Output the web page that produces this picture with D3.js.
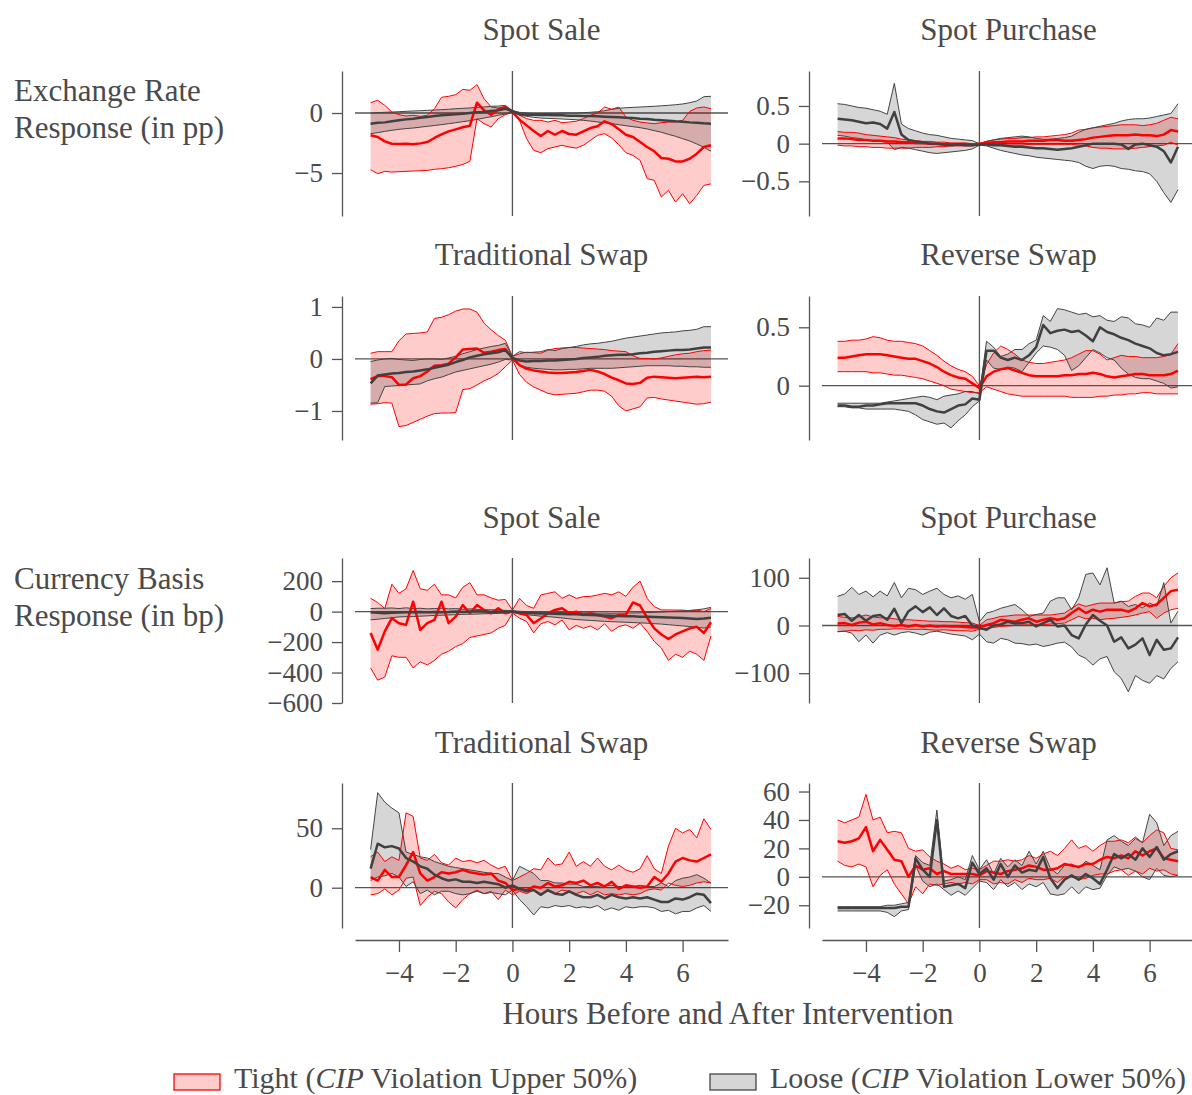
<!DOCTYPE html>
<html><head><meta charset="utf-8">
<script src="https://cdn.jsdelivr.net/npm/d3@7"></script>
<style>
body{margin:0;background:#fff}
svg{display:block}
text{font-family:"Liberation Serif","Times New Roman",serif;fill:#4a4a4a}
</style>
</head><body>
<svg id="c" width="1192" height="1095"></svg>
<script>
// ---------- categories ----------
const hours = [-5,-4.75,-4.5,-4.25,-4,-3.75,-3.5,-3.25,-3,-2.75,-2.5,-2.25,-2,-1.75,-1.5,-1.25,-1,-0.75,-0.5,-0.25,0,
  0.25,0.5,0.75,1,1.25,1.5,1.75,2,2.25,2.5,2.75,3,3.25,3.5,3.75,4,4.25,4.5,4.75,5,5.25,5.5,5.75,6,6.25,6.5,6.75,7];
const xTickValues = [-4,-2,0,2,4,6];
const columnTitles = ["Spot Sale","Spot Purchase","Traditional Swap","Reverse Swap"];
const rowLabels = [["Exchange Rate","Response (in pp)"],["Currency Basis","Response (in bp)"]];
const xLabel = "Hours Before and After Intervention";

// ---------- Exchange rate: Spot Sale ----------
const erSaleTight   = [-1.86,-2.00,-2.36,-2.56,-2.58,-2.56,-2.61,-2.53,-2.42,-2.08,-1.78,-1.53,-1.36,-1.19,-1.06,0.86,0.22,-0.14,0.31,0.47,0.1,
  -0.56,-1.03,-1.5,-1.92,-1.5,-1.81,-1.5,-1.75,-1.81,-1.53,-1.25,-1.11,-0.69,-0.92,-1.36,-1.81,-2.0,-2.42,-2.83,-3.19,-3.75,-3.81,-4.03,-4.03,-3.81,-3.39,-2.83,-2.69];
const erSaleTightLo = [-4.72,-5.06,-4.86,-4.92,-4.89,-4.86,-4.83,-4.81,-4.78,-4.69,-4.64,-4.56,-4.44,-4.28,-4.03,-0.47,-0.89,-1.17,-0.47,-0.14,0.05,
  -0.61,-2.14,-3.11,-3.31,-2.97,-2.83,-2.69,-2.83,-2.92,-2.69,-2.28,-1.86,-1.72,-2.08,-2.64,-3.31,-3.53,-3.94,-5.47,-5.61,-7.0,-6.44,-7.42,-6.72,-7.56,-6.86,-6.03,-5.9];
const erSaleTightHi = [0.86,1.06,0.64,0.08,-0.14,-0.25,-0.19,-0.28,-0.19,0.36,1.31,1.39,1.53,1.97,1.89,2.36,1.19,0.5,0.42,0.56,0.14,
  -0.19,-0.47,-0.61,-0.61,-0.75,-0.61,-0.81,-0.75,-0.69,-0.47,-0.19,0,0.5,0.31,0.5,-0.33,-0.61,-0.75,-0.83,-0.89,-0.81,-0.75,-0.75,-0.61,0.14,0.42,0.5,0.36];
const erSaleLoose   = [-0.89,-0.81,-0.78,-0.69,-0.61,-0.53,-0.47,-0.39,-0.33,-0.25,-0.19,-0.14,-0.11,-0.06,0,0.06,0.08,0.17,0.22,0.36,0.15,
  -0.1,-0.14,-0.14,-0.17,-0.17,-0.19,-0.19,-0.22,-0.22,-0.25,-0.25,-0.28,-0.31,-0.33,-0.36,-0.39,-0.42,-0.47,-0.5,-0.56,-0.6,-0.64,-0.69,-0.72,-0.78,-0.81,-0.86,-0.89];
const erSaleLooseLo = [-1.72,-1.64,-1.53,-1.44,-1.36,-1.3,-1.25,-1.18,-1.11,-1.04,-0.97,-0.89,-0.81,-0.72,-0.64,-0.53,-0.42,-0.31,-0.19,-0.08,0.1,
  -0.17,-0.28,-0.36,-0.42,-0.45,-0.47,-0.5,-0.53,-0.56,-0.61,-0.67,-0.75,-0.81,-0.89,-0.97,-1.06,-1.14,-1.22,-1.33,-1.47,-1.6,-1.78,-1.94,-2.14,-2.33,-2.58,-2.86,-3.19];
const erSaleLooseHi = [0,0.03,0.06,0.08,0.11,0.14,0.17,0.19,0.22,0.25,0.28,0.31,0.36,0.39,0.42,0.47,0.5,0.56,0.58,0.64,0.2,
  0.06,0,-0.03,-0.03,-0.03,-0.03,0,0,0,0.03,0.06,0.11,0.19,0.31,0.39,0.44,0.47,0.5,0.53,0.56,0.6,0.64,0.69,0.75,0.86,1.0,1.36,1.39];

// ---------- Exchange rate: Spot Purchase ----------
const erBuyTight   = [0.07,0.07,0.06,0.05,0.05,0.04,0.04,0.03,0.03,0.02,0.02,0.01,0.01,0,0,-0.01,-0.01,-0.01,-0.01,-0.01,0,
  0.01,0.02,0.02,0.03,0.03,0.03,0.04,0.04,0.04,0.05,0.05,0.04,0.04,0.05,0.06,0.08,0.09,0.1,0.11,0.11,0.11,0.12,0.11,0.11,0.1,0.12,0.18,0.16];
const erBuyTightLo = [-0.02,-0.03,-0.03,-0.04,-0.04,-0.05,-0.05,-0.06,-0.06,-0.06,-0.06,-0.05,-0.05,-0.05,-0.04,-0.04,-0.03,-0.03,-0.03,-0.03,-0.01,
  -0.01,-0.01,-0.01,-0.02,-0.02,-0.02,-0.01,-0.01,-0.01,-0.01,-0.01,-0.01,-0.01,-0.02,-0.03,-0.05,-0.06,-0.06,-0.07,-0.07,-0.07,-0.06,-0.05,-0.04,-0.03,-0.02,0.02,-0.02];
const erBuyTightHi = [0.16,0.15,0.15,0.14,0.12,0.11,0.1,0.09,0.08,0.06,0.05,0.04,0.03,0.03,0.02,0.02,0.01,0.01,0.01,0,0,
  0.03,0.05,0.06,0.07,0.07,0.08,0.08,0.09,0.09,0.1,0.11,0.12,0.14,0.18,0.19,0.21,0.22,0.23,0.24,0.25,0.25,0.25,0.24,0.25,0.27,0.31,0.35,0.33];
const erBuyLoose   = [0.33,0.32,0.31,0.29,0.27,0.28,0.26,0.2,0.42,0.12,0.05,0.03,0.02,0,0,-0.01,-0.02,-0.01,-0.02,-0.02,-0.01,
  -0.01,-0.02,-0.02,-0.03,-0.04,-0.04,-0.05,-0.06,-0.06,-0.07,-0.08,-0.07,-0.06,-0.04,-0.02,0,0,0,0,-0.01,-0.07,-0.01,0,-0.02,-0.04,-0.1,-0.25,-0.04];
const erBuyLooseLo = [0.11,0.1,0.08,0.07,0.05,0.04,0.03,0.02,-0.08,-0.05,-0.06,-0.08,-0.1,-0.12,-0.13,-0.12,-0.11,-0.1,-0.09,-0.07,-0.02,
  -0.03,-0.06,-0.09,-0.11,-0.13,-0.15,-0.16,-0.18,-0.19,-0.2,-0.21,-0.22,-0.23,-0.25,-0.3,-0.33,-0.3,-0.29,-0.3,-0.33,-0.34,-0.36,-0.37,-0.4,-0.5,-0.65,-0.78,-0.61];
const erBuyLooseHi = [0.53,0.52,0.5,0.48,0.47,0.45,0.43,0.39,0.8,0.26,0.2,0.17,0.14,0.12,0.11,0.09,0.07,0.06,0.05,0.04,0,
  0.03,0.05,0.07,0.08,0.09,0.1,0.09,0.07,0.06,0.06,0.07,0.08,0.1,0.15,0.19,0.21,0.23,0.25,0.27,0.3,0.32,0.33,0.33,0.34,0.36,0.38,0.4,0.53];

// ---------- Exchange rate: Traditional Swap ----------
const erTradTight   = [-0.39,-0.33,-0.33,-0.35,-0.5,-0.49,-0.37,-0.33,-0.24,-0.13,-0.12,-0.09,0.03,0.18,0.19,0.2,0.12,0.14,0.17,0.19,0.02,
  -0.12,-0.19,-0.22,-0.24,-0.26,-0.27,-0.27,-0.26,-0.25,-0.23,-0.21,-0.24,-0.29,-0.36,-0.41,-0.47,-0.48,-0.46,-0.36,-0.34,-0.35,-0.36,-0.37,-0.36,-0.35,-0.34,-0.35,-0.34];
const erTradTightLo = [-0.87,-0.86,-0.84,-0.85,-1.3,-1.28,-1.22,-1.16,-1.1,-1.05,-1.04,-1.04,-1.03,-0.59,-0.57,-0.5,-0.42,-0.36,-0.28,-0.15,-0.02,
  -0.3,-0.45,-0.54,-0.6,-0.66,-0.69,-0.68,-0.67,-0.66,-0.63,-0.6,-0.6,-0.62,-0.72,-0.9,-1.0,-0.96,-0.92,-0.75,-0.74,-0.77,-0.79,-0.81,-0.83,-0.85,-0.87,-0.86,-0.83];
const erTradTightHi = [0.11,0.14,0.14,0.14,0.35,0.48,0.49,0.5,0.52,0.78,0.8,0.85,0.92,0.96,0.96,0.9,0.69,0.56,0.45,0.36,0.05,
  0.1,0.13,0.12,0.11,0.17,0.2,0.21,0.22,0.22,0.21,0.2,0.19,0.18,0.16,0.15,0.14,0.06,0.01,0.01,0,0.02,0.05,0.08,0.1,0.11,0.14,0.16,0.17];
const erTradLoose   = [-0.47,-0.32,-0.3,-0.28,-0.27,-0.25,-0.24,-0.22,-0.2,-0.17,-0.14,-0.11,-0.06,-0.02,0.03,0.06,0.09,0.11,0.13,0.17,0.02,
  -0.03,-0.05,-0.04,-0.04,-0.03,-0.03,-0.02,-0.01,0,0.02,0.03,0.04,0.06,0.07,0.08,0.08,0.09,0.11,0.12,0.14,0.15,0.16,0.17,0.17,0.18,0.2,0.22,0.22];
const erTradLooseLo = [-0.85,-0.84,-0.53,-0.52,-0.51,-0.5,-0.49,-0.48,-0.42,-0.38,-0.35,-0.3,-0.25,-0.22,-0.19,-0.16,-0.13,-0.1,-0.06,-0.01,-0.02,
  -0.12,-0.16,-0.18,-0.19,-0.2,-0.21,-0.21,-0.2,-0.2,-0.19,-0.18,-0.18,-0.18,-0.18,-0.17,-0.16,-0.15,-0.14,-0.13,-0.13,-0.13,-0.13,-0.14,-0.14,-0.15,-0.15,-0.16,-0.16];
const erTradLooseHi = [-0.05,-0.02,0,0.01,-0.01,-0.02,-0.03,-0.01,0,0,-0.01,0.02,0.05,0.1,0.14,0.18,0.21,0.24,0.26,0.3,0.05,
  0.14,0.12,0.13,0.14,0.18,0.16,0.2,0.22,0.24,0.27,0.29,0.3,0.32,0.34,0.37,0.4,0.42,0.44,0.46,0.48,0.5,0.51,0.52,0.54,0.55,0.57,0.62,0.62];

// ---------- Exchange rate: Reverse Swap ----------
const erRevTight   = [0.24,0.24,0.25,0.26,0.27,0.27,0.27,0.26,0.25,0.24,0.23,0.23,0.21,0.19,0.16,0.12,0.09,0.07,0.06,0.02,-0.02,
  0.08,0.12,0.14,0.15,0.13,0.11,0.09,0.08,0.08,0.08,0.08,0.09,0.09,0.1,0.1,0.11,0.1,0.08,0.07,0.08,0.09,0.1,0.1,0.09,0.09,0.09,0.1,0.13];
const erRevTightLo = [0.12,0.12,0.12,0.12,0.12,0.11,0.11,0.1,0.09,0.09,0.08,0.07,0.06,0.04,0.02,0,-0.03,-0.04,-0.05,-0.06,-0.06,
  -0.01,-0.03,-0.05,-0.07,-0.08,-0.09,-0.09,-0.09,-0.09,-0.09,-0.09,-0.09,-0.1,-0.1,-0.1,-0.1,-0.09,-0.09,-0.08,-0.08,-0.07,-0.07,-0.06,-0.06,-0.07,-0.07,-0.07,-0.07];
const erRevTightHi = [0.38,0.38,0.39,0.39,0.4,0.42,0.41,0.39,0.38,0.38,0.37,0.36,0.34,0.3,0.26,0.21,0.17,0.14,0.12,0.08,0,
  0.18,0.28,0.34,0.31,0.27,0.22,0.2,0.19,0.19,0.2,0.21,0.22,0.24,0.27,0.3,0.3,0.27,0.22,0.24,0.26,0.25,0.25,0.24,0.24,0.24,0.25,0.27,0.36];
const erRevLoose   = [-0.17,-0.17,-0.18,-0.18,-0.17,-0.17,-0.16,-0.15,-0.15,-0.15,-0.15,-0.15,-0.17,-0.2,-0.22,-0.23,-0.2,-0.17,-0.16,-0.11,-0.12,
  0.3,0.3,0.24,0.22,0.24,0.22,0.26,0.33,0.52,0.45,0.47,0.48,0.46,0.47,0.43,0.38,0.5,0.46,0.44,0.41,0.39,0.36,0.34,0.32,0.28,0.26,0.27,0.29];
const erRevLooseLo = [-0.18,-0.18,-0.19,-0.19,-0.2,-0.2,-0.2,-0.2,-0.2,-0.21,-0.22,-0.25,-0.29,-0.31,-0.33,-0.32,-0.36,-0.3,-0.25,-0.18,-0.13,
  0.22,0.15,0.14,0.16,0.15,0.12,0.2,0.28,0.34,0.33,0.31,0.26,0.13,0.17,0.24,0.31,0.28,0.24,0.22,0.15,0.1,0.07,0.06,0.06,0.04,0.02,-0.02,-0.01];
const erRevLooseHi = [-0.15,-0.15,-0.15,-0.15,-0.15,-0.15,-0.15,-0.14,-0.13,-0.12,-0.11,-0.1,-0.09,-0.1,-0.12,-0.09,-0.08,-0.07,-0.05,-0.05,-0.07,
  0.38,0.33,0.25,0.27,0.31,0.31,0.36,0.39,0.6,0.55,0.66,0.65,0.63,0.61,0.62,0.59,0.6,0.56,0.55,0.59,0.58,0.53,0.52,0.5,0.58,0.56,0.63,0.63];

// ---------- Currency basis: Spot Sale ----------
const cbSaleTight   = [-141,-250,-130,-43,-76,-87,65,-120,-76,-54,65,-76,-33,43,-11,43,11,-11,22,-11,0,
  -11,-22,-76,-45,-10,11,22,-10,0,-22,-10,-22,-33,-43,-22,-20,60,40,-40,-110,-150,-180,-150,-130,-110,-100,-140,-70];
const cbSaleTightLo = [-370,-450,-430,-290,-300,-300,-370,-330,-350,-320,-280,-260,-230,-210,-170,-160,-150,-140,-110,-90,-10,
  -43,-65,-140,-80,-65,-87,-55,-120,-90,-109,-95,-120,-80,-130,-98,-87,-109,-76,-130,-196,-239,-320,-280,-300,-260,-280,-320,-160];
const cbSaleTightHi = [87,60,20,180,120,150,270,150,140,180,110,110,90,160,190,110,110,90,75,80,10,
  87,40,22,109,120,130,87,110,87,98,100,109,120,110,130,100,160,200,87,33,11,11,10,10,5,10,0,20];
const cbSaleLoose   = [-5,-8,-10,-8,-6,-5,-4,-3,-5,-2,-4,-3,0,-2,0,2,0,-2,-1,0,0,
  -5,-8,-10,-12,-12,-14,-15,-17,-18,-20,-22,-24,-25,-27,-28,-30,-31,-33,-34,-35,-37,-38,-40,-42,-45,-48,-45,-40];
const cbSaleLooseLo = [-54,-50,-45,-40,-35,-33,-33,-30,-28,-25,-24,-22,-20,-18,-17,-16,-14,-13,-12,-10,-5,
  -15,-20,-25,-30,-33,-37,-42,-47,-52,-55,-58,-61,-64,-66,-68,-70,-72,-74,-76,-79,-82,-86,-90,-94,-98,-102,-108,-100];
const cbSaleLooseHi = [20,22,22,24,20,25,20,22,18,20,22,18,20,15,18,15,12,12,10,8,5,
  2,0,-2,-3,-5,-5,-6,-7,-8,-8,-9,-10,-10,-11,-10,-10,-9,-8,-6,-5,-3,0,2,5,8,12,18,28];

// ---------- Currency basis: Spot Purchase ----------
const cbBuyTight   = [4,5,1,6,8,2,5,1,-1,1,-2,1,-2,0,-2,-1,-2,-2,-3,-4,-4,
  1,5,12,10,8,12,15,8,12,15,12,15,26,36,26,33,29,33,33,33,29,36,47,40,44,58,72,75];
const cbBuyTightLo = [-13,-12,-10,-11,-9,-10,-8,-8,-7,-7,-8,-8,-8,-9,-10,-9,-10,-11,-11,-12,-8,
  -6,-4,-2,-1,0,1,1,2,2,3,4,5,12,19,14,15,12,14,15,17,19,22,26,29,15,26,33,36];
const cbBuyTightHi = [19,17,16,18,22,18,16,16,14,12,12,11,10,9,9,8,8,7,6,5,0,
  12,15,19,20,22,22,22,22,22,22,24,26,36,45,40,44,47,47,47,50,51,61,68,68,58,82,100,110];
const cbBuyLoose   = [22,24,10,22,10,20,22,12,35,5,30,40,28,38,22,36,20,15,20,0,-5,
  -9,0,2,8,4,5,8,-2,5,12,-2,0,-20,-27,2,22,10,0,-34,-25,-48,-40,-27,-62,-30,-51,-48,-25];
const cbBuyLooseLo = [-13,-12,-16,-34,-20,-37,-20,-15,-20,-15,-13,-16,-20,-14,-12,-15,-18,-20,-22,-30,-18,
  -34,-37,-27,-30,-37,-38,-41,-39,-44,-41,-37,-35,-45,-62,-69,-83,-70,-65,-97,-111,-139,-105,-115,-121,-105,-112,-90,-76];
const cbBuyLooseHi = [61,66,80,65,72,60,72,62,90,58,78,75,65,72,78,65,58,62,55,65,8,
  26,30,36,40,44,33,19,23,26,51,58,58,33,58,107,110,85,121,47,51,40,44,37,47,40,90,5,30];

// ---------- Currency basis: Traditional Swap ----------
const cbTradTight   = [9,6,15,9,9,19,30,12,6,9,13,12,13,15,13,12,11,12,6,4,-2,
  -1,-2,1,0,4,1,2,5,4,6,2,4,1,5,-1,2,1,0,1,9,5,12,22,25,23,22,25,28];
const cbTradTightLo = [-6,-5,-1,-6,-2,8,9,-15,-8,-3,-5,-12,-17,-10,-5,-2,-5,-3,-10,-2,-6,
  -3,-5,-2,-5,-3,-5,-2,-3,-5,-3,-6,-3,-6,-5,-6,-5,-6,-5,-2,-1,-2,4,2,1,2,4,5,4];
const cbTradTightHi = [26,30,22,26,23,63,60,25,23,28,21,19,25,22,23,21,23,19,16,18,6,
  9,12,16,15,25,19,20,30,18,22,18,25,18,15,19,15,13,16,27,16,12,35,50,46,49,42,58,49];
const cbTradLoose   = [16,37,34,35,33,25,22,18,16,11,8,6,7,5,5,4,5,4,3,0,2,
  -1,-3,-2,-6,-2,-5,-6,-3,-6,-8,-8,-6,-9,-6,-8,-9,-8,-9,-8,-10,-12,-12,-9,-10,-8,-5,-6,-13];
const cbTradLooseLo = [6,9,10,12,9,1,5,-5,-2,-6,-3,-3,-5,-6,-5,-3,-5,-4,-5,-6,-2,
  -10,-16,-23,-16,-17,-15,-16,-15,-17,-16,-17,-15,-19,-17,-19,-16,-17,-16,-16,-17,-20,-19,-22,-20,-20,-17,-15,-20];
const cbTradLooseHi = [32,80,72,67,63,30,28,26,25,22,20,18,17,16,15,14,13,12,12,9,6,
  18,15,12,6,6,4,4,3,3,1,1,1,2,2,1,1,1,2,1,1,4,1,6,8,9,11,8,4];

// ---------- Currency basis: Reverse Swap ----------
const cbRevTight   = [25,24,25,27,35,18,26,19,12,11,0,8,5,6,2,4,2,2,2,2,1,
  4,3,2,4,5,6,8,7,5,5,6,9,8,7,9,9,12,14,13,15,13,18,15,18,20,13,12,11];
const cbRevTightLo = [11,8,7,9,7,-7,1,5,-5,-12,-19,-7,-12,-5,-6,-5,-4,-5,-4,-5,-2,
  -2,-5,-4,-5,-2,-4,-1,-2,-2,-1,-4,0,0,-2,-1,1,2,2,4,5,1,4,2,6,4,5,2,1];
const cbRevTightHi = [40,38,40,42,58,40,42,31,32,31,20,18,19,14,11,9,6,8,5,6,5,
  8,11,11,12,11,12,15,13,16,18,15,20,26,20,22,18,22,25,25,26,24,28,24,29,33,31,20,19];
const cbRevLoose   = [-22,-22,-22,-22,-22,-22,-22,-22,-22,-21,-21,13,5,0,40,-7,-6,-5,-8,10,2,
  6,-2,9,0,8,3,5,4,14,-1,-8,-2,1,-2,2,-1,-5,5,16,13,16,12,20,14,21,12,16,18];
const cbRevLooseLo = [-24,-24,-24,-24,-24,-24,-24,-25,-28,-24,-23,8,-3,-7,-5,-9,-13,-10,-13,-8,-3,
  -4,-9,-2,-7,-4,-9,-5,-7,-4,-12,-13,-12,-7,-12,-7,-9,-8,1,7,5,6,4,0,-2,6,1,0,1];
const cbRevLooseHi = [-21,-21,-21,-21,-21,-21,-21,-20,-20,-19,-18,15,10,8,47,-3,-2,0,-2,15,5,
  12,2,13,7,12,8,18,9,18,6,2,8,9,6,11,8,5,26,29,25,22,27,24,44,38,22,29,32];

// ---------- y tick labels ----------
const erSaleTicks = [-5,0];
const erBuyTicks = [-0.5,0,0.5];
const erTradTicks = [-1,0,1];
const erRevTicks = [0,0.5];
const cbSaleTicks = [-600,-400,-200,0,200];
const cbBuyTicks = [-100,0,100];
const cbTradTicks = [0,50];
const cbRevTicks = [-20,0,20,40,60];

const legendItems = ["Tight", "Loose"];

// ---------- layout ----------
const svg = d3.select("#c");
const FS = 31, TICKFS = 27;
const colRange = [[355,728],[822,1195]];
const spineX = [342, 809];
const rowRange = [[71,216],[296,440],[558,703],[783,928]];
const titleY = [40,265,528,753];
const xDomain = [-5.55, 7.6];

const panels = [
  {r:0,c:0,title:columnTitles[0],dom:[-8.58,3.5],ticks:erSaleTicks,t:[erSaleTight,erSaleTightLo,erSaleTightHi],l:[erSaleLoose,erSaleLooseLo,erSaleLooseHi]},
  {r:0,c:1,title:columnTitles[1],dom:[-0.96,0.964],ticks:erBuyTicks,t:[erBuyTight,erBuyTightLo,erBuyTightHi],l:[erBuyLoose,erBuyLooseLo,erBuyLooseHi]},
  {r:1,c:0,title:columnTitles[2],dom:[-1.558,1.21],ticks:erTradTicks,t:[erTradTight,erTradTightLo,erTradTightHi],l:[erTradLoose,erTradLooseLo,erTradLooseHi]},
  {r:1,c:1,title:columnTitles[3],dom:[-0.465,0.768],ticks:erRevTicks,t:[erRevTight,erRevTightLo,erRevTightHi],l:[erRevLoose,erRevLooseLo,erRevLooseHi]},
  {r:2,c:0,title:columnTitles[0],dom:[-600,352],ticks:cbSaleTicks,t:[cbSaleTight,cbSaleTightLo,cbSaleTightHi],l:[cbSaleLoose,cbSaleLooseLo,cbSaleLooseHi]},
  {r:2,c:1,title:columnTitles[1],dom:[-162.4,141.4],ticks:cbBuyTicks,t:[cbBuyTight,cbBuyTightLo,cbBuyTightHi],l:[cbBuyLoose,cbBuyLooseLo,cbBuyLooseHi]},
  {r:3,c:0,title:columnTitles[2],dom:[-33.9,88.1],ticks:cbTradTicks,t:[cbTradTight,cbTradTightLo,cbTradTightHi],l:[cbTradLoose,cbTradLooseLo,cbTradLooseHi]},
  {r:3,c:1,title:columnTitles[3],dom:[-36,66],ticks:cbRevTicks,t:[cbRevTight,cbRevTightLo,cbRevTightHi],l:[cbRevLoose,cbRevLooseLo,cbRevLooseHi]}
];

const fmt = d => (d < 0 ? "\u2212" : "") + Math.abs(d);
const AX = "#555";

function styleAxis(g, fs) {
  g.select(".domain").attr("stroke", AX).attr("stroke-width", 1.3);
  g.selectAll(".tick line").attr("stroke", AX).attr("stroke-width", 1.3);
  g.selectAll(".tick text").attr("font-size", fs).attr("fill", "#4a4a4a")
    .attr("font-family", '"Liberation Serif","Times New Roman",serif');
}

panels.forEach(p => {
  const x = d3.scaleLinear().domain(xDomain).range(colRange[p.c]);
  const y = d3.scaleLinear().domain(p.dom).range([rowRange[p.r][1], rowRange[p.r][0]]);
  const g = svg.append("g");

  g.append("text").attr("x", (colRange[p.c][0]+colRange[p.c][1])/2).attr("y", titleY[p.r])
    .attr("text-anchor","middle").attr("font-size", FS).text(p.title);

  g.append("line").attr("x1", colRange[p.c][0]).attr("x2", colRange[p.c][1])
    .attr("y1", y(0)).attr("y2", y(0)).attr("stroke", AX).attr("stroke-width", 1.3);
  g.append("line").attr("x1", x(0)).attr("x2", x(0))
    .attr("y1", rowRange[p.r][0]).attr("y2", rowRange[p.r][1]).attr("stroke", AX).attr("stroke-width", 1.3);

  const ya = g.append("g").attr("transform", `translate(${spineX[p.c]},0)`)
    .call(d3.axisLeft(y).tickValues(p.ticks).tickFormat(fmt).tickSizeOuter(0).tickSizeInner(10).tickPadding(9));
  styleAxis(ya, TICKFS);

  const area = s => d3.area().x((d,i)=>x(hours[i])).y0((d,i)=>y(s[1][i])).y1((d,i)=>y(s[2][i]));
  const line = arr => d3.line().x((d,i)=>x(hours[i])).y((d,i)=>y(arr[i]));

  g.append("path").datum(hours).attr("d", area(p.t)).attr("fill","rgba(255,0,0,0.2)");
  g.append("path").datum(hours).attr("d", area(p.l)).attr("fill","rgba(0,0,0,0.16)");
  [1,2].forEach(k => {
    g.append("path").datum(hours).attr("d", line(p.t[k])).attr("fill","none").attr("stroke","#ff0000").attr("stroke-width",1);
  });
  [1,2].forEach(k => {
    g.append("path").datum(hours).attr("d", line(p.l[k])).attr("fill","none").attr("stroke","#444").attr("stroke-width",1);
  });
  g.append("path").datum(hours).attr("d", line(p.t[0])).attr("fill","none").attr("stroke","#ff0000").attr("stroke-width",2.5).attr("stroke-linejoin","round");
  g.append("path").datum(hours).attr("d", line(p.l[0])).attr("fill","none").attr("stroke","#404040").attr("stroke-width",2.5).attr("stroke-linejoin","round");

  if (p.r === 3) {
    const xa = g.append("g").attr("transform","translate(0,940)")
      .call(d3.axisBottom(x).tickValues(xTickValues).tickFormat(fmt).tickSizeOuter(0).tickSizeInner(12).tickPadding(11));
    styleAxis(xa, TICKFS);
  }
});

[[0,101],[1,589]].forEach(([i,yy]) => {
  svg.append("text").attr("x",14).attr("y",yy).attr("font-size",FS).text(rowLabels[i][0]);
  svg.append("text").attr("x",14).attr("y",yy+37).attr("font-size",FS).text(rowLabels[i][1]);
});

svg.append("text").attr("x",728).attr("y",1024).attr("text-anchor","middle").attr("font-size",FS).text(xLabel);

function legendEntry(x0, fill, stroke, name, tail) {
  svg.append("rect").attr("x",x0).attr("y",1074).attr("width",46).attr("height",16)
    .attr("fill",fill).attr("stroke",stroke).attr("stroke-width",1.3);
  const t = svg.append("text").attr("x",x0+60).attr("y",1088).attr("font-size",30);
  t.append("tspan").text(name + " (");
  t.append("tspan").attr("font-style","italic").text("CIP");
  t.append("tspan").text(" Violation " + tail + " 50%)");
}
legendEntry(174, "#ffcccc", "#ff0000", legendItems[0], "Upper");
legendEntry(710, "#d6d6d6", "#444", legendItems[1], "Lower");

panels.forEach(p => [...p.t, ...p.l].forEach((a,i) => { if (a.length !== hours.length) console.error("len", p.title, p.r, i, a.length); }));
</script>
</body></html>
